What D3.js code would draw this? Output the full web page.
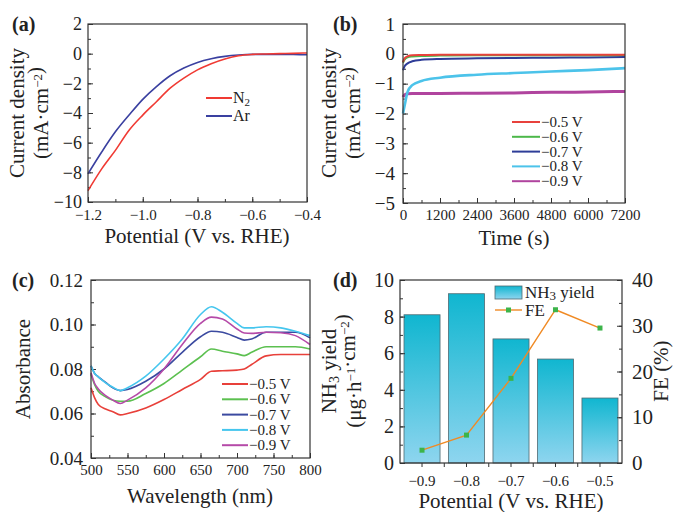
<!DOCTYPE html>
<html>
<head>
<meta charset="utf-8">
<script src="https://cdn.jsdelivr.net/npm/d3@7"></script>
<style>
  body { margin: 0; background: #fff; }
  svg { display: block; }
</style>
</head>
<body>
<div id="chart"></div>
<script>
// (a) LSV curves
const aPotential = [-1.2, -1.15, -1.1, -1.05, -1.0, -0.95, -0.9, -0.85, -0.8, -0.75, -0.7, -0.65, -0.6, -0.55, -0.5, -0.45, -0.4];
const aN2 = [-9.24, -7.77, -6.52, -5.16, -4.14, -3.24, -2.33, -1.65, -1.09, -0.68, -0.36, -0.14, -0.05, -0.02, 0, 0.02, 0.05];
const aAr = [-8.1, -6.63, -5.27, -4.14, -3.08, -2.22, -1.49, -0.97, -0.59, -0.34, -0.18, -0.09, -0.05, -0.05, -0.05, -0.06, -0.07];

// (b) chronoamperometry
const bTime = [0, 50, 150, 300, 600, 1200, 2400, 3600, 4800, 6000, 7200];
const b05 = [-0.28, -0.15, -0.08, -0.05, -0.04, -0.03, -0.03, -0.03, -0.03, -0.03, -0.03];
const b06 = [-0.3, -0.2, -0.12, -0.09, -0.07, -0.06, -0.05, -0.05, -0.05, -0.05, -0.04];
const b07 = [-0.55, -0.42, -0.32, -0.25, -0.2, -0.17, -0.15, -0.14, -0.13, -0.12, -0.11];
const b08 = [-2.0, -1.75, -1.27, -1.05, -0.91, -0.8, -0.7, -0.645, -0.59, -0.545, -0.48];
const b09 = [-1.45, -1.38, -1.34, -1.33, -1.33, -1.33, -1.32, -1.31, -1.29, -1.28, -1.26];

// (c) UV-vis absorbance
const cWave = [500, 505, 510, 520, 530, 540, 550, 575, 600, 625, 650, 665, 680, 700, 710, 720, 740, 760, 780, 800];
const c05 = [0.0716, 0.067, 0.064, 0.062, 0.0608, 0.0594, 0.060, 0.0625, 0.0663, 0.0708, 0.0753, 0.079, 0.0792, 0.0795, 0.080, 0.082, 0.0859, 0.0865, 0.0865, 0.0865];
const c06 = [0.0776, 0.073, 0.070, 0.0675, 0.066, 0.0655, 0.0655, 0.069, 0.0735, 0.0795, 0.0855, 0.089, 0.088, 0.0868, 0.086, 0.0875, 0.090, 0.090, 0.090, 0.089];
const c07 = [0.0814, 0.078, 0.0765, 0.074, 0.0715, 0.0703, 0.0708, 0.0745, 0.080, 0.0875, 0.0945, 0.097, 0.0965, 0.0942, 0.093, 0.0935, 0.0965, 0.0965, 0.0965, 0.094];
const c08 = [0.0814, 0.078, 0.0765, 0.0738, 0.0718, 0.0703, 0.0716, 0.0768, 0.0845, 0.0935, 0.1045, 0.108, 0.1055, 0.1005, 0.0985, 0.0985, 0.099, 0.0985, 0.097, 0.095];
const c09 = [0.0783, 0.0735, 0.071, 0.068, 0.066, 0.0645, 0.066, 0.0715, 0.080, 0.091, 0.1005, 0.1033, 0.1025, 0.098, 0.0962, 0.096, 0.0965, 0.0963, 0.095, 0.091];

// (d) NH3 yield and FE
const dPotential = ['−0.9', '−0.8', '−0.7', '−0.6', '−0.5'];
const dYield = [8.1, 9.25, 6.78, 5.68, 3.55];
const dFE = [2.8, 6.1, 18.5, 33.5, 29.5];

const seriesLabels = ['−0.5 V', '−0.6 V', '−0.7 V', '−0.8 V', '−0.9 V'];

const serif = '"Liberation Serif", "Times New Roman", serif';
const width = 678, height = 512;

const svg = d3.select('#chart').append('svg')
    .attr('width', width).attr('height', height)
    .attr('font-family', serif).attr('fill', '#222');

// inward ticks (major + minor), labels outside the frame
const drawAxis = (axisFn, scale, transform, majors, minors, fmt, fs, pad, len = -5, mlen = -3) => {
    const g = svg.append('g').attr('transform', transform);
    g.append('g')
        .call(axisFn(scale).tickValues(minors).tickFormat('').tickSizeInner(mlen).tickSizeOuter(0))
        .call(s => s.select('.domain').remove());
    g.append('g')
        .call(axisFn(scale).tickValues(majors).tickFormat(fmt).tickSizeInner(len).tickSizeOuter(0).tickPadding(pad))
        .call(s => s.select('.domain').remove())
        .attr('font-size', fs).attr('font-family', serif);
    g.selectAll('line').attr('stroke', '#333').attr('stroke-width', 1);
    g.selectAll('text').attr('fill', '#222');
    return g;
};

const frame = (x0, x1, y0, y1) => svg.append('rect')
    .attr('x', x0).attr('y', y0).attr('width', x1 - x0).attr('height', y1 - y0)
    .attr('fill', 'none').attr('stroke', '#333').attr('stroke-width', 1.2);

const range = (a, b, s) => d3.range(Math.round((b - a) / s) + 1).map(i => +(a + i * s).toFixed(4));

const panelLabel = (x, y, t) => svg.append('text').attr('x', x).attr('y', y)
    .attr('font-size', 20).attr('font-weight', 'bold').text(t);

const vTitle = (x, y, build) => {
    const t = svg.append('text').attr('transform', `translate(${x},${y}) rotate(-90)`)
        .attr('text-anchor', 'middle').attr('font-size', 21);
    build(t);
    return t;
};

const sup = (t, s) => {
    t.append('tspan').attr('font-size', 13).attr('dy', -6).text(s);
    t.append('tspan').attr('dy', 6).text('');
};

const legend = (x, y0, dy, colors, labels, fs, len = 26) => {
    colors.forEach((c, i) => {
        const y = y0 + i * dy;
        svg.append('line').attr('x1', x).attr('x2', x + len).attr('y1', y).attr('y2', y)
            .attr('stroke', c).attr('stroke-width', 2);
        const t = svg.append('text').attr('x', x + len + 1).attr('y', y).attr('dy', '0.33em')
            .attr('font-size', fs);
        labels[i](t);
    });
};

// ---------------- (a) ----------------
{
    const x = d3.scaleLinear().domain([-1.2, -0.4]).range([88, 307]);
    const y = d3.scaleLinear().domain([-10, 2]).range([202, 24]);
    drawAxis(d3.axisLeft, y, 'translate(88,0)', range(-10, 2, 2), range(-10, 2, 1), d3.format('d'), 18, 6);
    drawAxis(d3.axisBottom, x, 'translate(0,202)', range(-1.2, -0.4, 0.2), range(-1.2, -0.4, 0.1), d3.format('.1f'), 15, 7);
    const line = d3.line().x((d, i) => x(aPotential[i])).y(d => y(d)).curve(d3.curveMonotoneX);
    svg.append('path').attr('d', line(aAr)).attr('fill', 'none').attr('stroke', '#3a40a0').attr('stroke-width', 1.6);
    svg.append('path').attr('d', line(aN2)).attr('fill', 'none').attr('stroke', '#f03a33').attr('stroke-width', 1.6);
    frame(88, 307, 24, 202);
    legend(206, 98, 18, ['#f03a33', '#3a40a0'], [
        t => { t.append('tspan').text('N'); t.append('tspan').attr('font-size', 11).attr('dy', 3).text('2'); },
        t => t.text('Ar')
    ], 16);
    svg.append('text').attr('x', 197).attr('y', 243).attr('text-anchor', 'middle').attr('font-size', 21)
        .text('Potential (V vs. RHE)');
    vTitle(24, 113, t => t.text('Current density'));
    vTitle(48, 113, t => {
        t.append('tspan').text('(mA·cm');
        sup(t, '−2');
        t.append('tspan').text(')');
    });
    panelLabel(12, 31, '(a)');
}

// ---------------- (b) ----------------
{
    const x = d3.scaleLinear().domain([0, 7200]).range([403, 625]);
    const y = d3.scaleLinear().domain([-5, 1]).range([203, 24]);
    drawAxis(d3.axisLeft, y, 'translate(403,0)', range(-5, 1, 1), range(-5, 1, 0.5), d3.format('d'), 19, 8);
    drawAxis(d3.axisBottom, x, 'translate(0,203)', range(0, 7200, 1200), range(0, 7200, 600), d3.format('d'), 15, 6);
    const line = d3.line().x((d, i) => x(bTime[i])).y(d => y(d)).curve(d3.curveMonotoneX);
    const bSeries = [b09, b08, b07, b06, b05];
    const bColors = ['#b0449e', '#4cc3ea', '#2e3d98', '#4cb84a', '#e8413c'];
    const bWidths = [3, 2.6, 2, 2, 2];
    bSeries.forEach((s, i) => svg.append('path').attr('d', line(s)).attr('fill', 'none')
        .attr('stroke', bColors[i]).attr('stroke-width', bWidths[i]));
    frame(403, 625, 24, 203);
    legend(512, 122, 14.8, ['#e8413c', '#4cb84a', '#2e3d98', '#4cc3ea', '#b0449e'],
        seriesLabels.map(l => t => t.text(l)), 15, 28);
    svg.append('text').attr('x', 514).attr('y', 245).attr('text-anchor', 'middle').attr('font-size', 21)
        .text('Time (s)');
    vTitle(336, 113, t => t.text('Current density'));
    vTitle(360, 113, t => {
        t.append('tspan').text('(mA·cm');
        sup(t, '−2');
        t.append('tspan').text(')');
    });
    panelLabel(333, 31, '(b)');
}

// ---------------- (c) ----------------
{
    const x = d3.scaleLinear().domain([500, 800]).range([91, 310]);
    const y = d3.scaleLinear().domain([0.04, 0.12]).range([458, 280]);
    drawAxis(d3.axisLeft, y, 'translate(91,0)', range(0.04, 0.12, 0.02), range(0.04, 0.12, 0.01), d3.format('.2f'), 19, 8);
    drawAxis(d3.axisBottom, x, 'translate(0,458)', range(500, 800, 50), range(500, 800, 25), d3.format('d'), 15, 6);
    const line = d3.line().x((d, i) => x(cWave[i])).y(d => y(d)).curve(d3.curveMonotoneX);
    const cSeries = [c05, c06, c07, c09, c08];
    const cColors = ['#e8403a', '#5cc050', '#3b4aa0', '#b54aa8', '#45c6ee'];
    cSeries.forEach((s, i) => svg.append('path').attr('d', line(s)).attr('fill', 'none')
        .attr('stroke', cColors[i]).attr('stroke-width', 1.6));
    frame(91, 310, 280, 458);
    legend(222, 384, 15.3, ['#e8403a', '#5cc050', '#3b4aa0', '#45c6ee', '#b54aa8'],
        seriesLabels.map(l => t => t.text(l)), 15, 26);
    svg.append('text').attr('x', 200).attr('y', 503).attr('text-anchor', 'middle').attr('font-size', 21)
        .text('Wavelength (nm)');
    vTitle(30, 369, t => t.text('Absorbance'));
    panelLabel(12, 287, '(c)');
}

// ---------------- (d) ----------------
{
    const x = d3.scaleBand().domain(dPotential).range([400, 622]).paddingInner(0.19).paddingOuter(0.09);
    const yL = d3.scaleLinear().domain([0, 10]).range([463, 280]);
    const yR = d3.scaleLinear().domain([0, 40]).range([463, 280]);

    const defs = svg.append('defs');
    const grad = defs.append('linearGradient').attr('id', 'barGrad')
        .attr('x1', 0).attr('y1', 0).attr('x2', 0).attr('y2', 1);
    grad.append('stop').attr('offset', '0%').attr('stop-color', '#10b6d0');
    grad.append('stop').attr('offset', '100%').attr('stop-color', '#8ed5ef');

    svg.append('g').selectAll('rect').data(dYield).join('rect')
        .attr('x', (d, i) => x(dPotential[i])).attr('width', x.bandwidth())
        .attr('y', d => yL(d)).attr('height', d => yL(0) - yL(d))
        .attr('fill', 'url(#barGrad)').attr('stroke', '#4f6a72').attr('stroke-width', 0.8);

    drawAxis(d3.axisLeft, yL, 'translate(400,0)', range(0, 10, 2), range(0, 10, 1), d3.format('d'), 20, 6);
    drawAxis(d3.axisRight, yR, 'translate(622,0)', range(0, 40, 10), range(0, 40, 5), d3.format('d'), 21, 10);

    // bottom ticks: at category centres and between them, pointing down
    const gx = svg.append('g').attr('transform', 'translate(0,463)');
    const centers = dPotential.map(p => x(p) + x.bandwidth() / 2);
    const mids = centers.slice(1).map((c, i) => (c + centers[i]) / 2);
    gx.selectAll('line').data(centers.concat(mids)).join('line')
        .attr('x1', d => d).attr('x2', d => d).attr('y1', 0).attr('y2', 4)
        .attr('stroke', '#333');
    gx.selectAll('text').data(dPotential).join('text')
        .attr('x', (d, i) => centers[i]).attr('y', 23).attr('text-anchor', 'middle')
        .attr('font-size', 15).text(d => d);

    const fe = d3.line().x((d, i) => centers[i]).y(d => yR(d));
    svg.append('path').attr('d', fe(dFE)).attr('fill', 'none').attr('stroke', '#f08a24').attr('stroke-width', 1.4);
    svg.append('g').selectAll('rect').data(dFE).join('rect')
        .attr('x', (d, i) => centers[i] - 2.5).attr('y', d => yR(d) - 2.5)
        .attr('width', 5).attr('height', 5).attr('fill', '#3cb44a');

    frame(400, 622, 280, 463);

    // legend
    svg.append('rect').attr('x', 495).attr('y', 286).attr('width', 27).attr('height', 13)
        .attr('fill', 'url(#barGrad)').attr('stroke', '#4f6a72').attr('stroke-width', 0.8);
    const t1 = svg.append('text').attr('x', 525).attr('y', 298).attr('font-size', 17);
    t1.append('tspan').text('NH');
    t1.append('tspan').attr('font-size', 13).attr('dy', 2).text('3');
    t1.append('tspan').attr('dy', -2).text(' yield');
    svg.append('line').attr('x1', 495).attr('x2', 522).attr('y1', 310).attr('y2', 310)
        .attr('stroke', '#f08a24').attr('stroke-width', 1.4);
    svg.append('rect').attr('x', 506).attr('y', 307.5).attr('width', 5).attr('height', 5).attr('fill', '#3cb44a');
    svg.append('text').attr('x', 525).attr('y', 316).attr('font-size', 17).text('FE');

    svg.append('text').attr('x', 511).attr('y', 508).attr('text-anchor', 'middle').attr('font-size', 21)
        .text('Potential (V vs. RHE)');
    vTitle(336, 371, t => {
        t.append('tspan').text('NH');
        t.append('tspan').attr('font-size', 14).attr('dy', 3).text('3');
        t.append('tspan').attr('dy', -3).text(' yield');
    });
    vTitle(361, 371, t => {
        t.append('tspan').text('(μg·h');
        sup(t, '−1');
        t.append('tspan').text('·cm');
        sup(t, '−2');
        t.append('tspan').text(')');
    });
    vTitle(668, 371, t => t.text('FE (%)'));
    panelLabel(333, 287, '(d)');
}
</script>
</body>
</html>
